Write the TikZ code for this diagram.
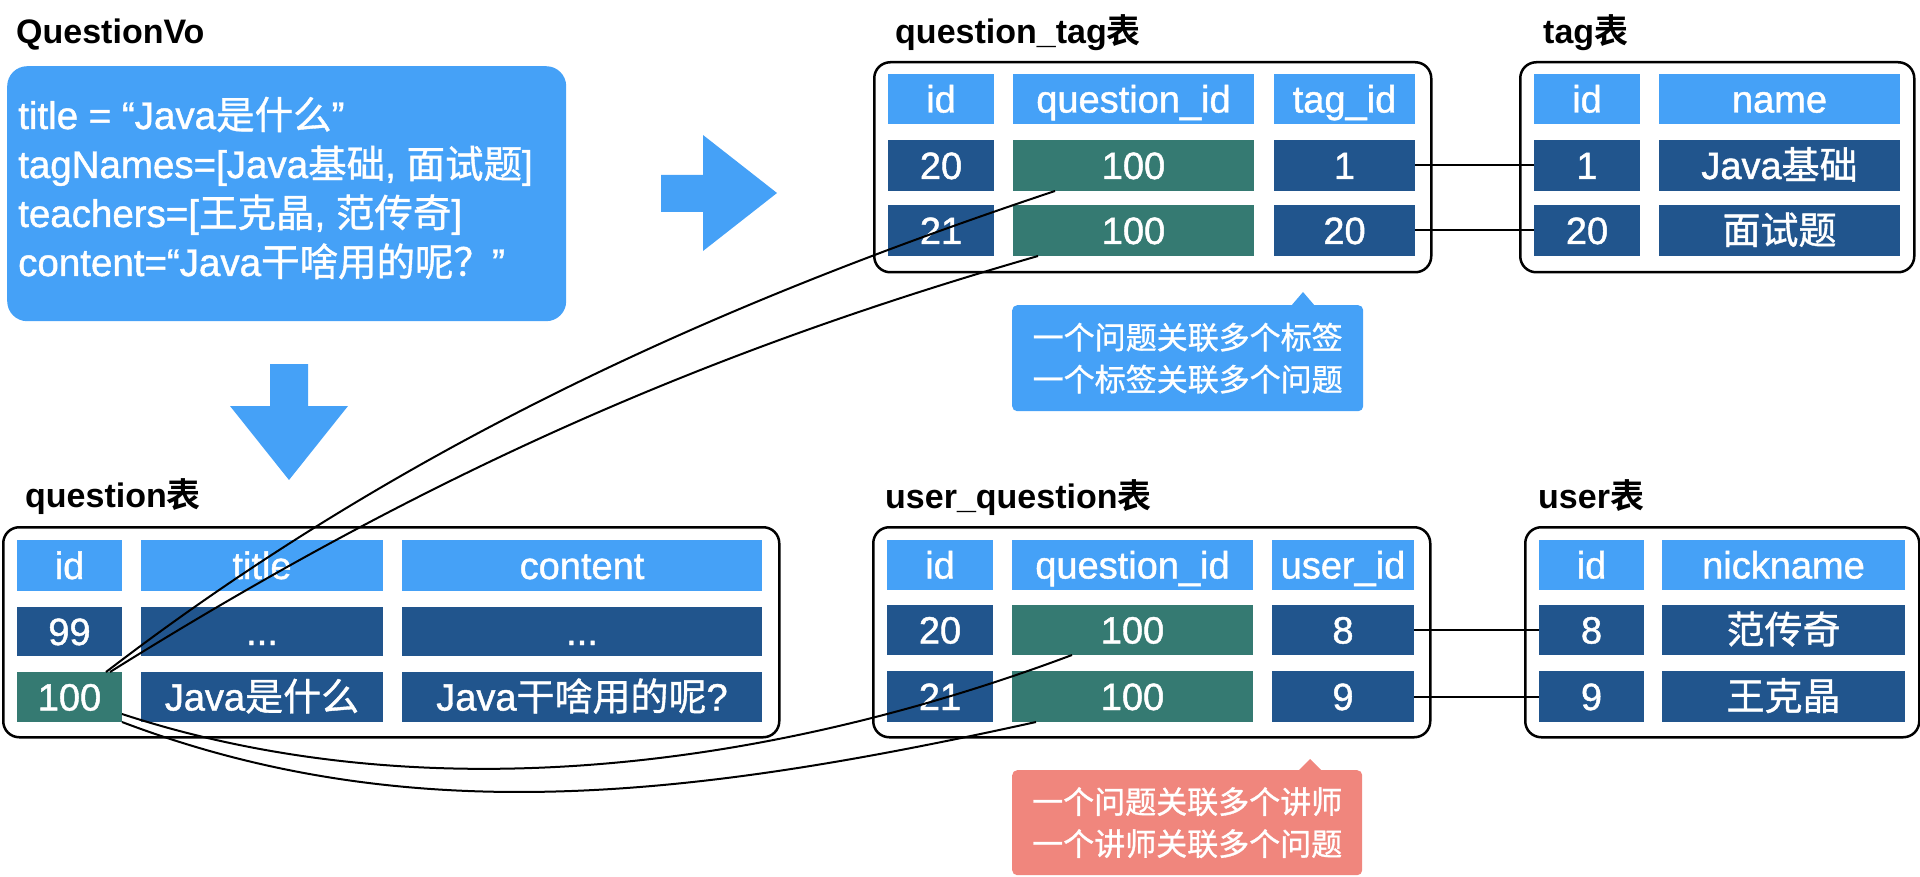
\documentclass[tikz,border=0pt]{standalone}
\usepackage{fontspec}
\setmainfont{Liberation Sans}
\newfontfamily\zhfont{Noto Sans CJK SC}[BoldFont={* Bold}]
\newfontfamily\medfont{Liberation Sans}[BoldFont={Liberation Sans}, BoldFeatures={FakeBold=1.2}]
\newfontfamily\zhmedfont{Noto Sans CJK SC}[BoldFont={Noto Sans CJK SC}, BoldFeatures={FakeBold=1.0}]
\newif\ifmed
\newcommand\zh[1]{{\ifmed\zhmedfont\else\zhfont\fi #1}}
\definecolor{lb}{RGB}{69,161,247}
\definecolor{db}{RGB}{33,85,141}
\definecolor{tl}{RGB}{53,122,114}
\definecolor{pk}{RGB}{240,134,125}
\tikzset{
 cell/.style={anchor=north west, inner sep=0pt, outer sep=0pt, text=white, font=\medtrue\medfont\bfseries\fontsize{38}{44}\selectfont, text height=27pt, text depth=0pt},
 hd/.style={cell, fill=lb},
 dk/.style={cell, fill=db},
 tc/.style={cell, fill=tl},
 tbl/.style={draw=black, line width=2.5pt, rounded corners=16pt, anchor=north west, inner sep=0pt},
 ttl/.style={anchor=base west, inner sep=0pt, font=\bfseries\fontsize{34}{40}\selectfont},
 votext/.style={anchor=base west, inner sep=0pt, text=white, font=\medtrue\medfont\bfseries\fontsize{38.5}{44}\selectfont},
 callbox/.style={anchor=north west, inner sep=0pt, rounded corners=5pt, text=white, align=center, font=\medtrue\medfont\bfseries\fontsize{31}{42}\selectfont},
 link/.style={draw=black, line width=2pt},
}
\newcommand\cell[7]{\node[#6, minimum width={(#4-#2)*1pt}, minimum height={(#5-#3)*1pt}] (#1) at (#2,#3) {#7};}
\newcommand\tbox[5]{\node[tbl, minimum width={(#4-#2)*1pt}, minimum height={(#5-#3)*1pt}] (#1) at (#2,#3) {};}
\begin{document}
\begin{tikzpicture}[x=1pt,y=-1pt]
\useasboundingbox (0,0) rectangle (1920,877);

% QuestionVo
\node[ttl] (vo-title) at (16,44) {QuestionVo};
\node[fill=lb, rounded corners=20pt, anchor=north west, inner sep=0pt, minimum width=559pt, minimum height=255pt] (vo) at (7,66) {};
\node[votext] (vo1) at (18,129) {title = “Java\zh{是什么}”};
\node[votext] (vo2) at (18,178) {tagNames=[Java\zh{基础}, \zh{面试题}]};
\node[votext] (vo3) at (18,227) {teachers=[\zh{王克晶}, \zh{范传奇}]};
\node[votext] (vo4) at (18,276) {content=“Java\zh{干啥用的呢？}”};

% arrows
\fill[lb] (661,175) -- (703,175) -- (703,135) -- (777,193) -- (703,251) -- (703,212) -- (661,212) -- cycle;
\fill[lb] (270,364) -- (308,364) -- (308,406) -- (348,406) -- (289,480) -- (230,406) -- (270,406) -- cycle;

% question_tag table
\node[ttl] (qt-title) at (895,44) {question\_tag\zh{表}};
\tbox{qt}{873}{61}{1430}{271}
\cell{qt-h-id}{888}{74}{994}{124}{hd}{id}
\cell{qt-h-qid}{1013}{74}{1254}{124}{hd}{question\_id}
\cell{qt-h-tid}{1274}{74}{1415}{124}{hd}{tag\_id}
\cell{qt-r1-id}{888}{140}{994}{191}{dk}{20}
\cell{qt-r1-qid}{1013}{140}{1254}{191}{tc}{100}
\cell{qt-r1-tid}{1274}{140}{1415}{191}{dk}{1}
\cell{qt-r2-id}{888}{205}{994}{256}{dk}{21}
\cell{qt-r2-qid}{1013}{205}{1254}{256}{tc}{100}
\cell{qt-r2-tid}{1274}{205}{1415}{256}{dk}{20}

% tag table
\node[ttl] (tg-title) at (1543,44) {tag\zh{表}};
\tbox{tg}{1519}{61}{1913}{271}
\cell{tg-h-id}{1534}{74}{1640}{124}{hd}{id}
\cell{tg-h-name}{1659}{74}{1900}{124}{hd}{name}
\cell{tg-r1-id}{1534}{140}{1640}{191}{dk}{1}
\cell{tg-r1-name}{1659}{140}{1900}{191}{dk}{Java\zh{基础}}
\cell{tg-r2-id}{1534}{205}{1640}{256}{dk}{20}
\cell{tg-r2-name}{1659}{205}{1900}{256}{dk}{\zh{面试题}}

% callout 1
\node[callbox, fill=lb, minimum width=351pt, minimum height=106pt] (cb1) at (1012,305) {\zh{一个问题关联多个标签}\\\zh{一个标签关联多个问题}};
\fill[lb] (1291,306) -- (1303,292) -- (1315,306) -- cycle;

% question table
\node[ttl] (q-title) at (25,507) {question\zh{表}};
\tbox{q}{2}{526}{778}{736}
\cell{q-h-id}{17}{540}{122}{591}{hd}{id}
\cell{q-h-title}{141}{540}{383}{591}{hd}{title}
\cell{q-h-content}{402}{540}{762}{591}{hd}{content}
\cell{q-r1-id}{17}{607}{122}{656}{dk}{99}
\cell{q-r1-title}{141}{607}{383}{656}{dk}{...}
\cell{q-r1-content}{402}{607}{762}{656}{dk}{...}
\cell{q-r2-id}{17}{672}{122}{722}{tc}{100}
\cell{q-r2-title}{141}{672}{383}{722}{dk}{Java\zh{是什么}}
\cell{q-r2-content}{402}{672}{762}{722}{dk}{Java\zh{干啥用的呢}?}

% user_question table
\node[ttl] (uq-title) at (885,508) {user\_question\zh{表}};
\tbox{uq}{872}{526}{1429}{736}
\cell{uq-h-id}{887}{540}{993}{590}{hd}{id}
\cell{uq-h-qid}{1012}{540}{1253}{590}{hd}{question\_id}
\cell{uq-h-uid}{1272}{540}{1414}{590}{hd}{user\_id}
\cell{uq-r1-id}{887}{605}{993}{655}{dk}{20}
\cell{uq-r1-qid}{1012}{605}{1253}{655}{tc}{100}
\cell{uq-r1-uid}{1272}{605}{1414}{655}{dk}{8}
\cell{uq-r2-id}{887}{671}{993}{722}{dk}{21}
\cell{uq-r2-qid}{1012}{671}{1253}{722}{tc}{100}
\cell{uq-r2-uid}{1272}{671}{1414}{722}{dk}{9}

% user table
\node[ttl] (us-title) at (1538,508) {user\zh{表}};
\tbox{us}{1524}{526}{1918}{736}
\cell{us-h-id}{1539}{540}{1644}{590}{hd}{id}
\cell{us-h-nick}{1662}{540}{1905}{590}{hd}{nickname}
\cell{us-r1-id}{1539}{605}{1644}{655}{dk}{8}
\cell{us-r1-nick}{1662}{605}{1905}{655}{dk}{\zh{范传奇}}
\cell{us-r2-id}{1539}{671}{1644}{722}{dk}{9}
\cell{us-r2-nick}{1662}{671}{1905}{722}{dk}{\zh{王克晶}}

% callout 2
\node[callbox, fill=pk, minimum width=350pt, minimum height=105pt] (cb2) at (1012,770) {\zh{一个问题关联多个讲师}\\\zh{一个讲师关联多个问题}};
\fill[pk] (1298,771) -- (1310,759) -- (1322,771) -- cycle;

% straight links
\draw[link] (qt-r1-tid.east) -- (tg-r1-id.west);
\draw[link] (qt-r2-tid.east) -- (tg-r2-id.west);
\draw[link] (uq-r1-uid.east) -- (us-r1-id.west);
\draw[link] (uq-r2-uid.east) -- (us-r2-id.west);

% curved links
\draw[link] ([xshift=-16pt]q-r2-id.north east) .. controls +(300,-230) and +(-330,110) .. ([xshift=42pt]qt-r1-qid.south west);
\draw[link] ([xshift=-12pt]q-r2-id.north east) .. controls +(320,-200) and +(-330,95) .. ([xshift=25pt]qt-r2-qid.south west);
\draw[link] ([yshift=8pt]q-r2-id.south east) .. controls +(290,95) and +(-320,120) .. ([xshift=60pt]uq-r1-qid.south west);
\draw[link] (q-r2-id.south east) .. controls +(290,110) and +(-340,75) .. ([xshift=24pt]uq-r2-qid.south west);
\end{tikzpicture}
\end{document}
